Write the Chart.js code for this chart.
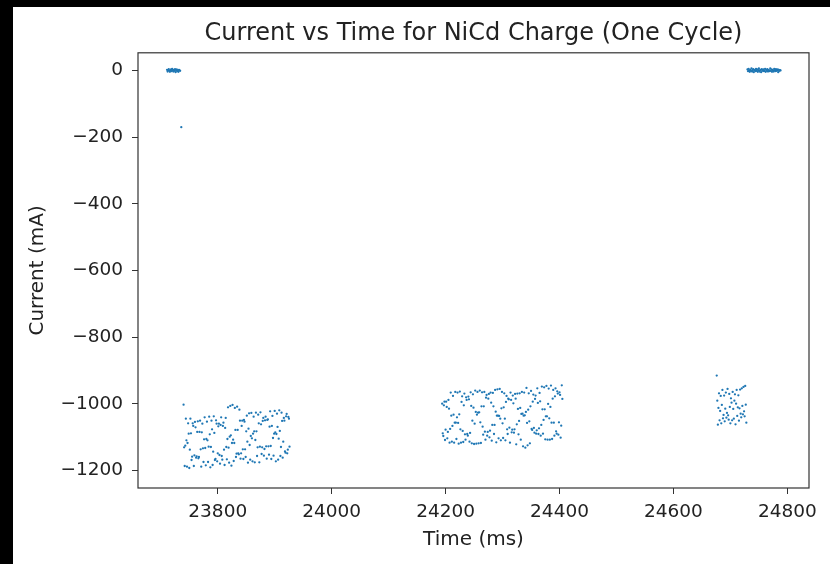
<!DOCTYPE html>
<html>
<head>
<meta charset="utf-8">
<title>NiCd Charge Current</title>
<script src="https://cdn.jsdelivr.net/npm/chart.js@4/dist/chart.umd.min.js"></script>
<style>
  html, body { margin: 0; padding: 0; background: #fff; overflow: hidden; }
  #wrap { position: relative; width: 830px; height: 564px; }
  #myChart { position: absolute; left: 0; top: 0; }
  .edge { position: absolute; background: #000; z-index: 2; }
</style>
</head>
<body>
<div id="wrap">
  <canvas id="myChart" width="830" height="564"></canvas>
  <div class="edge" style="left:0;top:0;width:830px;height:7px;"></div>
  <div class="edge" style="left:0;top:0;width:13px;height:564px;"></div>
</div>
<script>
// Idle readings before the charge pulses (ms, mA)
const idleStartTime = [
  23711, 23712, 23713, 23714, 23715, 23716, 23717, 23718, 23719, 23720,
  23721, 23722, 23723, 23724, 23725, 23726, 23727, 23728, 23729, 23730,
  23731, 23732, 23733, 23734
];
const idleStartCurrent = [
  2, -3, 1, 4, -1, -4, 0, 3, -2, 5,
  1, -3, 2, -1, 4, -5, 0, 3, -2, 1,
  -4, 2, 0, -1
];

// Switching edge
const edgeTime = [23736];
const edgeCurrent = [-170];

// First charge pulse
const burst1Time = [
  23740, 23741, 23742, 23743, 23744, 23745, 23746, 23747, 23748, 23749,
  23750, 23751, 23752, 23753, 23754, 23755, 23756, 23757, 23758, 23759,
  23760, 23761, 23762, 23763, 23764, 23765, 23766, 23767, 23768, 23769,
  23770, 23771, 23772, 23773, 23774, 23775, 23776, 23777, 23778, 23779,
  23780, 23781, 23782, 23783, 23784, 23785, 23786, 23787, 23788, 23789,
  23790, 23791, 23792, 23793, 23794, 23795, 23796, 23797, 23798, 23799,
  23800, 23801, 23802, 23803, 23804, 23805, 23806, 23807, 23808, 23809,
  23810, 23811, 23812, 23813, 23814, 23815, 23816, 23817, 23818, 23819,
  23820, 23821, 23822, 23823, 23824, 23825, 23826, 23827, 23828, 23829,
  23830, 23831, 23832, 23833, 23834, 23835, 23836, 23837, 23838, 23839,
  23840, 23841, 23842, 23843, 23844, 23845, 23846, 23847, 23848, 23849,
  23850, 23851, 23852, 23853, 23854, 23855, 23856, 23857, 23858, 23859,
  23860, 23861, 23862, 23863, 23864, 23865, 23866, 23867, 23868, 23869,
  23870, 23871, 23872, 23873, 23874, 23875, 23876, 23877, 23878, 23879,
  23880, 23881, 23882, 23883, 23884, 23885, 23886, 23887, 23888, 23889,
  23890, 23891, 23892, 23893, 23894, 23895, 23896, 23897, 23898, 23899,
  23900, 23901, 23902, 23903, 23904, 23905, 23906, 23907, 23908, 23909,
  23910, 23911, 23912, 23913, 23914, 23915, 23916, 23917, 23918, 23919,
  23920, 23921, 23922, 23923, 23924, 23925, 23926
];
const burst1Current = [
  -1002, -1130, -1186, -1125, -1044, -1109, -1188, -1117, -1058, -1089,
  -1192, -1137, -1044, -1088, -1168, -1158, -1058, -1066, -1186, -1154,
  -1054, -1070, -1161, -1157, -1084, -1052, -1163, -1159, -1084, -1050,
  -1136, -1188, -1085, -1059, -1133, -1174, -1106, -1040, -1132, -1184,
  -1105, -1053, -1109, -1174, -1128, -1038, -1091, -1190, -1129, -1050,
  -1076, -1183, -1143, -1037, -1087, -1168, -1165, -1049, -1059, -1172,
  -1148, -1067, -1059, -1153, -1179, -1063, -1040, -1156, -1167, -1066,
  -1056, -1137, -1183, -1072, -1042, -1129, -1166, -1105, -1010, -1131,
  -1176, -1098, -1006, -1094, -1185, -1117, -1003, -1107, -1171, -1117,
  -1012, -1078, -1159, -1149, -1008, -1078, -1148, -1151, -1017, -1050,
  -1164, -1148, -1066, -1050, -1136, -1165, -1048, -1053, -1136, -1159,
  -1082, -1035, -1113, -1176, -1074, -1028, -1123, -1167, -1096, -1027,
  -1103, -1172, -1089, -1038, -1082, -1175, -1108, -1026, -1082, -1156,
  -1130, -1032, -1058, -1175, -1128, -1025, -1061, -1150, -1130, -1051,
  -1042, -1155, -1135, -1049, -1038, -1127, -1164, -1048, -1046, -1127,
  -1152, -1068, -1022, -1126, -1165, -1066, -1036, -1102, -1155, -1089,
  -1021, -1085, -1172, -1090, -1029, -1069, -1167, -1104, -1019, -1081,
  -1156, -1129, -1026, -1051, -1161, -1113, -1042, -1050, -1142, -1146,
  -1037, -1030, -1148, -1137, -1039, -1044, -1128
];

// Second charge pulse
const burst2Time = [
  24194, 24195, 24196, 24197, 24198, 24199, 24200, 24201, 24202, 24203,
  24204, 24205, 24206, 24207, 24208, 24209, 24210, 24211, 24212, 24213,
  24214, 24215, 24216, 24217, 24218, 24219, 24220, 24221, 24222, 24223,
  24224, 24225, 24226, 24227, 24228, 24229, 24230, 24231, 24232, 24233,
  24234, 24235, 24236, 24237, 24238, 24239, 24240, 24241, 24242, 24243,
  24244, 24245, 24246, 24247, 24248, 24249, 24250, 24251, 24252, 24253,
  24254, 24255, 24256, 24257, 24258, 24259, 24260, 24261, 24262, 24263,
  24264, 24265, 24266, 24267, 24268, 24269, 24270, 24271, 24272, 24273,
  24274, 24275, 24276, 24277, 24278, 24279, 24280, 24281, 24282, 24283,
  24284, 24285, 24286, 24287, 24288, 24289, 24290, 24291, 24292, 24293,
  24294, 24295, 24296, 24297, 24298, 24299, 24300, 24301, 24302, 24303,
  24304, 24305, 24306, 24307, 24308, 24309, 24310, 24311, 24312, 24313,
  24314, 24315, 24316, 24317, 24318, 24319, 24320, 24321, 24322, 24323,
  24324, 24325, 24326, 24327, 24328, 24329, 24330, 24331, 24332, 24333,
  24334, 24335, 24336, 24337, 24338, 24339, 24340, 24341, 24342, 24343,
  24344, 24345, 24346, 24347, 24348, 24349, 24350, 24351, 24352, 24353,
  24354, 24355, 24356, 24357, 24358, 24359, 24360, 24361, 24362, 24363,
  24364, 24365, 24366, 24367, 24368, 24369, 24370, 24371, 24372, 24373,
  24374, 24375, 24376, 24377, 24378, 24379, 24380, 24381, 24382, 24383,
  24384, 24385, 24386, 24387, 24388, 24389, 24390, 24391, 24392, 24393,
  24394, 24395, 24396, 24397, 24398, 24399, 24400, 24401, 24402, 24403,
  24404, 24405
];
const burst2Current = [
  -999, -1088, -1096, -1004, -993, -1108, -1077, -993, -1009, -1103,
  -1084, -988, -1014, -1116, -1075, -966, -1035, -1113, -1066, -976,
  -1032, -1116, -1056, -964, -1056, -1105, -1040, -966, -1057, -1119,
  -1031, -963, -1076, -1116, -994, -977, -1081, -1114, -1004, -969,
  -1091, -1107, -980, -988, -1090, -1095, -978, -986, -1113, -1087,
  -965, -1006, -1118, -1050, -971, -1011, -1120, -1059, -960, -1024,
  -1119, -1032, -964, -1026, -1118, -1025, -960, -1055, -1117, -1007,
  -965, -1068, -1092, -1007, -964, -1083, -1107, -981, -973, -1095,
  -1084, -984, -970, -1100, -1080, -966, -996, -1110, -1063, -967,
  -1007, -1090, -1063, -958, -1023, -1115, -1035, -956, -1035, -1103,
  -1036, -955, -1044, -1109, -1013, -964, -1058, -1102, -1010, -968,
  -1044, -1109, -994, -976, -1076, -1090, -984, -986, -1071, -1116,
  -966, -988, -1085, -1077, -975, -998, -1086, -1076, -970, -984,
  -1121, -1061, -969, -1015, -1091, -1051, -968, -1012, -1107, -1030,
  -964, -1029, -1127, -1035, -966, -1034, -1131, -1024, -952, -1057,
  -1124, -1017, -968, -1052, -1118, -1007, -961, -1075, -1078, -993,
  -972, -1072, -1086, -985, -975, -1089, -1079, -953, -997, -1090,
  -1073, -967, -992, -1095, -1063, -948, -1016, -1089, -1048, -950,
  -1016, -1106, -1037, -946, -1037, -1107, -1000, -954, -1043, -1107,
  -1009, -945, -1056, -1105, -984, -958, -1056, -1095, -977, -953,
  -1082, -1089, -962, -969, -1092, -1055, -965, -973, -1101, -1065,
  -944, -985
];

// Third (short) charge pulse
const burst3Time = [
  24676, 24677, 24678, 24679, 24680, 24681, 24682, 24683, 24684, 24685,
  24686, 24687, 24688, 24689, 24690, 24691, 24692, 24693, 24694, 24695,
  24696, 24697, 24698, 24699, 24700, 24701, 24702, 24703, 24704, 24705,
  24706, 24707, 24708, 24709, 24710, 24711, 24712, 24713, 24714, 24715,
  24716, 24717, 24718, 24719, 24720, 24721, 24722, 24723, 24724, 24725,
  24726, 24727, 24728
];
const burst3Current = [
  -915, -990, -1062, -1012, -968, -1049, -1021, -976, -1058, -1003,
  -958, -1043, -1033, -975, -1052, -1014, -966, -1041, -1027, -955,
  -1034, -1047, -970, -1009, -1058, -983, -996, -1049, -964, -1015,
  -1044, -990, -971, -1061, -999, -958, -1036, -1010, -974, -1050,
  -1013, -957, -1029, -1040, -953, -1006, -1031, -949, -1022, -1037,
  -946, -1002, -1056
];

// Idle readings after the cycle
const idleEndTime = [
  24730, 24731, 24732, 24733, 24734, 24735, 24736, 24737, 24738, 24739,
  24740, 24741, 24742, 24743, 24744, 24745, 24746, 24747, 24748, 24749,
  24750, 24751, 24752, 24753, 24754, 24755, 24756, 24757, 24758, 24759,
  24760, 24761, 24762, 24763, 24764, 24765, 24766, 24767, 24768, 24769,
  24770, 24771, 24772, 24773, 24774, 24775, 24776, 24777, 24778, 24779,
  24780, 24781, 24782, 24783, 24784, 24785, 24786, 24787, 24788
];
const idleEndCurrent = [
  3, -2, 5, 0, -4, 2, -1, 6, -3, 1,
  4, -5, 0, 2, -2, 5, -1, 3, -4, 1,
  6, -3, 0, 2, -5, 4, -1, 1, 3, -2,
  0, 5, -4, 2, -1, 4, -3, 1, 0, -2,
  6, -1, 3, -4, 2, 0, -3, 5, 1, -2,
  4, -1, 0, 3, -5, 2, -1, 1, 0
];

// Axis ticks
const timeTicks = [23800, 24000, 24200, 24400, 24600, 24800];
const currentTicks = [0, -200, -400, -600, -800, -1000, -1200];

// Join the segments into one list of points
const segments = [
  [idleStartTime, idleStartCurrent],
  [edgeTime, edgeCurrent],
  [burst1Time, burst1Current],
  [burst2Time, burst2Current],
  [burst3Time, burst3Current],
  [idleEndTime, idleEndCurrent]
];
const points = [];
segments.forEach(([times, currents]) => {
  times.forEach((t, i) => points.push({ x: t, y: currents[i] }));
});

// Box around the plot area (all four sides)
const frame = {
  id: 'frame',
  afterDraw(chart) {
    const { ctx, chartArea: a } = chart;
    ctx.save();
    ctx.strokeStyle = '#333';
    ctx.lineWidth = 1.2;
    ctx.strokeRect(a.left, a.top, a.right - a.left, a.bottom - a.top);
    ctx.restore();
  }
};

Chart.defaults.font.family = "'DejaVu Sans', sans-serif";
Chart.defaults.color = '#222';

const ctx = document.getElementById('myChart').getContext('2d');

new Chart(ctx, {
  type: 'scatter',
  data: {
    datasets: [{
      data: points,
      pointRadius: 1.15,
      pointBackgroundColor: '#1f77b4',
      pointBorderWidth: 0
    }]
  },
  options: {
    responsive: false,
    animation: false,
    events: [],
    layout: { padding: { left: 0, right: 21, top: 0, bottom: 0 } },
    plugins: {
      legend: { display: false },
      tooltip: { enabled: false },
      title: {
        display: true,
        fullSize: false,
        text: 'Current vs Time for NiCd Charge (One Cycle)',
        color: '#222',
        font: { size: 24, weight: 'normal' },
        padding: { top: 19, bottom: 5 }
      }
    },
    scales: {
      x: {
        type: 'linear',
        min: 23660,
        max: 24838,
        afterFit: scale => { scale.height = 76; },
        afterBuildTicks: scale => { scale.ticks = timeTicks.map(v => ({ value: v })); },
        border: { display: false },
        grid: { drawOnChartArea: false, tickLength: 6, color: '#333' },
        ticks: {
          padding: 7,
          maxRotation: 0,
          autoSkip: false,
          font: { size: 18.5 },
          callback: v => String(v)
        },
        title: {
          display: true,
          text: 'Time (ms)',
          font: { size: 20 },
          padding: { top: 0, bottom: 12.5 }
        }
      },
      y: {
        type: 'linear',
        min: -1252,
        max: 53,
        afterFit: scale => { scale.width = 138; },
        afterBuildTicks: scale => { scale.ticks = currentTicks.map(v => ({ value: v })); },
        border: { display: false },
        grid: { drawOnChartArea: false, tickLength: 6, color: '#333' },
        ticks: {
          padding: 9,
          autoSkip: false,
          font: { size: 18.5 },
          // matplotlib-style minus sign
          callback: v => (v < 0 ? '\u2212' + (-v) : String(v))
        },
        title: {
          display: true,
          text: 'Current (mA)',
          font: { size: 20 },
          padding: { top: 25.5, bottom: 0 }
        }
      }
    }
  },
  plugins: [frame]
});
</script>
</body>
</html>
